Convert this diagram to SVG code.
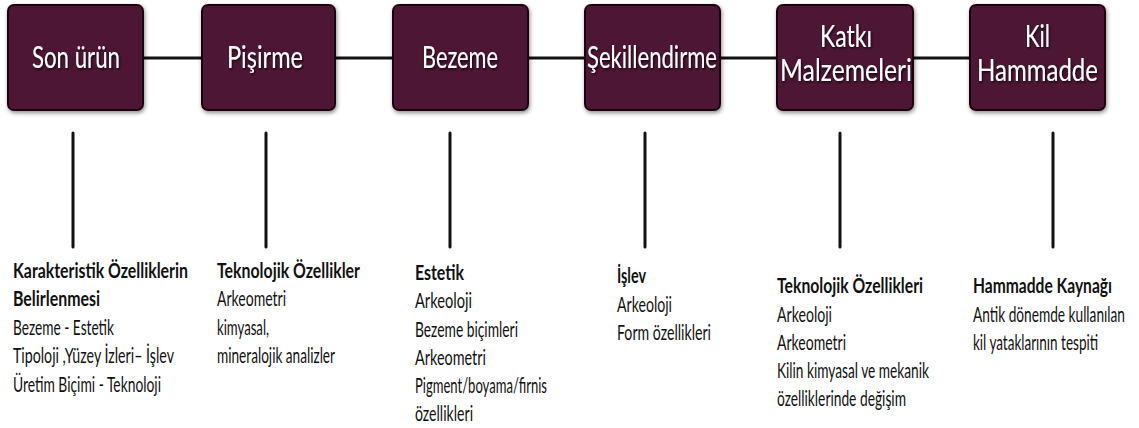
<svg xmlns="http://www.w3.org/2000/svg" width="1139" height="428" viewBox="0 0 1139 428">
<defs>
<filter id="sh" x="-10%" y="-10%" width="125%" height="125%">
<feDropShadow dx="1" dy="2" stdDeviation="2" flood-color="#000" flood-opacity="0.45"/>
</filter>
<filter id="tsh" x="-10%" y="-20%" width="120%" height="150%">
<feDropShadow dx="1" dy="1.5" stdDeviation="1" flood-color="#000" flood-opacity="0.8"/>
</filter>
</defs>
<style>
.box{fill:#4e1534;stroke:#1e0510;stroke-width:2;filter:url(#sh)}
.lbl{font-family:Lato,"Liberation Sans",sans-serif;font-size:30px;fill:#fff;filter:url(#tsh)}
.conn line{stroke:#111;stroke-width:3;stroke-linecap:round}
.t{font-family:Lato,"Liberation Sans",sans-serif;font-size:21px;fill:#111}
.b{font-weight:bold}
</style>
<rect width="1139" height="428" fill="#fff"/>
<g class="conn">
<line x1="143" y1="58" x2="202" y2="58"/>
<line x1="335" y1="58" x2="393" y2="58"/>
<line x1="528" y1="58" x2="585" y2="58"/>
<line x1="720" y1="58" x2="777" y2="58"/>
<line x1="913" y1="58" x2="970" y2="58"/>
<line x1="73" y1="133" x2="73" y2="247"/>
<line x1="266" y1="133" x2="266" y2="247"/>
<line x1="450" y1="133" x2="450" y2="247"/>
<line x1="645" y1="133" x2="645" y2="247"/>
<line x1="840" y1="133" x2="840" y2="247"/>
<line x1="1053" y1="133" x2="1053" y2="247"/>
</g>
<g id="son-urun">
<rect class="box" x="8" y="5" width="135" height="105" rx="6"/>
<text class="lbl" x="32" y="68" textLength="88" lengthAdjust="spacingAndGlyphs">Son ürün</text>
</g>
<g id="pisirme">
<rect class="box" x="202" y="5" width="133" height="105" rx="6"/>
<text class="lbl" x="227" y="68" textLength="76" lengthAdjust="spacingAndGlyphs">Pişirme</text>
</g>
<g id="bezeme">
<rect class="box" x="393" y="5" width="135" height="105" rx="6"/>
<text class="lbl" x="422" y="68" textLength="76" lengthAdjust="spacingAndGlyphs">Bezeme</text>
</g>
<g id="sekillendirme">
<rect class="box" x="585" y="5" width="135" height="105" rx="6"/>
<text class="lbl" x="587" y="68" textLength="130" lengthAdjust="spacingAndGlyphs">Şekillendirme</text>
</g>
<g id="katki">
<rect class="box" x="777" y="5" width="136" height="105" rx="6"/>
<text class="lbl" x="820" y="47" textLength="52" lengthAdjust="spacingAndGlyphs">Katkı</text>
<text class="lbl" x="780" y="81" textLength="132" lengthAdjust="spacingAndGlyphs">Malzemeleri</text>
</g>
<g id="kil">
<rect class="box" x="970" y="5" width="135" height="105" rx="6"/>
<text class="lbl" x="1025" y="47" textLength="25" lengthAdjust="spacingAndGlyphs">Kil</text>
<text class="lbl" x="977" y="81" textLength="121" lengthAdjust="spacingAndGlyphs">Hammadde</text>
</g>
<g transform="scale(0.7,1)">
<g id="col-son-urun">
<text class="t b" x="18.57" y="278" textLength="250" lengthAdjust="spacingAndGlyphs">Karakteristik Özelliklerin</text>
<text class="t b" x="18.57" y="306" textLength="124.3" lengthAdjust="spacingAndGlyphs">Belirlenmesi</text>
<text class="t" x="18.57" y="335" textLength="144.3" lengthAdjust="spacingAndGlyphs">Bezeme - Estetik</text>
<text class="t" x="18.57" y="363" textLength="230" lengthAdjust="spacingAndGlyphs">Tipoloji ,Yüzey İzleri– İşlev</text>
<text class="t" x="18.57" y="392" textLength="211.4" lengthAdjust="spacingAndGlyphs">Üretim Biçimi - Teknoloji</text>
</g>
<g id="col-pisirme">
<text class="t b" x="310" y="278" textLength="204.3" lengthAdjust="spacingAndGlyphs">Teknolojik Özellikler</text>
<text class="t" x="310" y="306" textLength="98.6" lengthAdjust="spacingAndGlyphs">Arkeometri</text>
<text class="t" x="310" y="335" textLength="74.3" lengthAdjust="spacingAndGlyphs">kimyasal,</text>
<text class="t" x="310" y="363" textLength="168.6" lengthAdjust="spacingAndGlyphs">mineralojik analizler</text>
</g>
<g id="col-bezeme">
<text class="t b" x="592.86" y="280" textLength="70" lengthAdjust="spacingAndGlyphs">Estetik</text>
<text class="t" x="592.86" y="308" textLength="81.4" lengthAdjust="spacingAndGlyphs">Arkeoloji</text>
<text class="t" x="592.86" y="337" textLength="147.1" lengthAdjust="spacingAndGlyphs">Bezeme biçimleri</text>
<text class="t" x="592.86" y="365" textLength="101.4" lengthAdjust="spacingAndGlyphs">Arkeometri</text>
<text class="t" x="592.86" y="393" textLength="188.6" lengthAdjust="spacingAndGlyphs">Pigment/boyama/firnis</text>
<text class="t" x="592.86" y="421" textLength="82.9" lengthAdjust="spacingAndGlyphs">özellikleri</text>
</g>
<g id="col-sekillendirme">
<text class="t b" x="881.43" y="283" textLength="41.4" lengthAdjust="spacingAndGlyphs">İşlev</text>
<text class="t" x="881.43" y="312" textLength="78.6" lengthAdjust="spacingAndGlyphs">Arkeoloji</text>
<text class="t" x="881.43" y="340" textLength="134.3" lengthAdjust="spacingAndGlyphs">Form özellikleri</text>
</g>
<g id="col-katki">
<text class="t b" x="1110" y="293" textLength="208.6" lengthAdjust="spacingAndGlyphs">Teknolojik Özellikleri</text>
<text class="t" x="1110" y="322" textLength="78.6" lengthAdjust="spacingAndGlyphs">Arkeoloji</text>
<text class="t" x="1110" y="350" textLength="98.6" lengthAdjust="spacingAndGlyphs">Arkeometri</text>
<text class="t" x="1110" y="378" textLength="217.1" lengthAdjust="spacingAndGlyphs">Kilin kimyasal ve mekanik</text>
<text class="t" x="1110" y="406" textLength="184.3" lengthAdjust="spacingAndGlyphs">özelliklerinde değişim</text>
</g>
<g id="col-kil">
<text class="t b" x="1390" y="293" textLength="198.6" lengthAdjust="spacingAndGlyphs">Hammadde Kaynağı</text>
<text class="t" x="1390" y="322" textLength="217.1" lengthAdjust="spacingAndGlyphs">Antik dönemde kullanılan</text>
<text class="t" x="1390" y="350" textLength="178.6" lengthAdjust="spacingAndGlyphs">kil yataklarının tespiti</text>
</g>
</g>
</svg>
